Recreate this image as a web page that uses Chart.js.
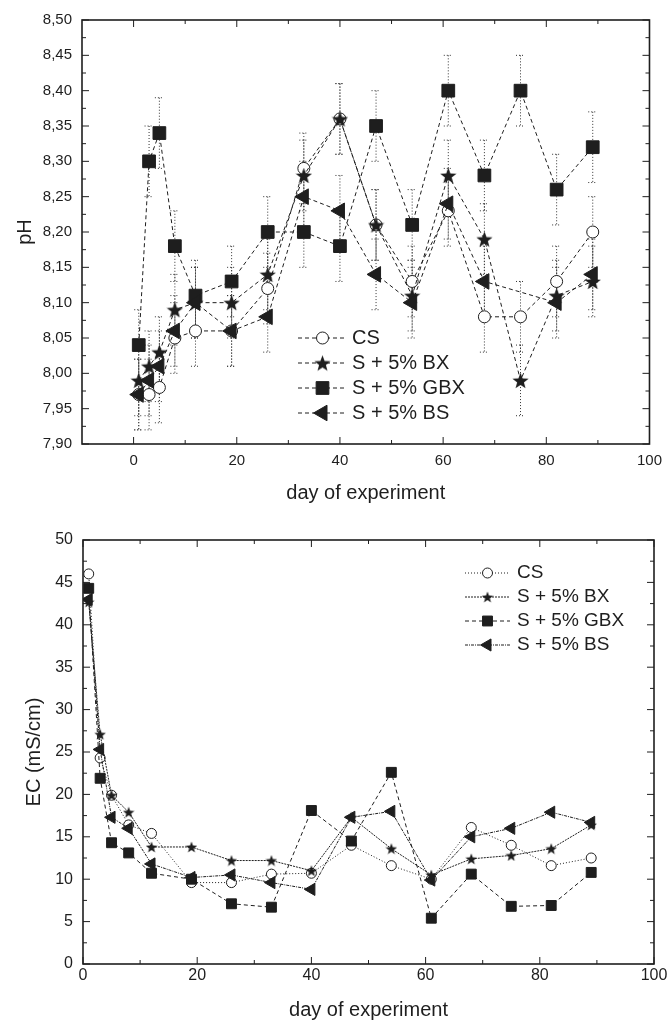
<!DOCTYPE html>
<html>
<head>
<meta charset="utf-8">
<script src="https://cdn.jsdelivr.net/npm/chart.js@4.4.1/dist/chart.umd.min.js"></script>
<style>
  body { margin: 0; background: #fff; }
  .panel { position: absolute; left: 0; width: 670px; height: 510px; }
</style>
</head>
<body>
<div class="panel" style="top:0"><canvas id="ph" width="670" height="510"></canvas></div>
<div class="panel" style="top:510px"><canvas id="ec" width="670" height="510"></canvas></div>
<script>
// sampling days (shared by both panels)
const days = [1, 3, 5, 8, 12, 19, 26, 33, 40, 47, 54, 61, 68, 75, 82, 89];
const seriesLabels = ['CS', 'S + 5% BX', 'S + 5% GBX', 'S + 5% BS'];

// pH panel
const phCS  = [7.97, 7.97, 7.98, 8.05, 8.06, 8.06, 8.12, 8.29, 8.36, 8.21, 8.13, 8.23, 8.08, 8.08, 8.13, 8.20];
const phBX  = [7.99, 8.01, 8.03, 8.09, 8.10, 8.10, 8.14, 8.28, 8.36, 8.21, 8.11, 8.28, 8.19, 7.99, 8.11, 8.13];
const phGBX = [8.04, 8.30, 8.34, 8.18, 8.11, 8.13, 8.20, 8.20, 8.18, 8.35, 8.21, 8.40, 8.28, 8.40, 8.26, 8.32];
const phBS  = [7.97, 7.99, 8.01, 8.06, 8.10, 8.06, 8.08, 8.25, 8.23, 8.14, 8.10, 8.24, 8.13, null, 8.10, 8.14];
const phErr = 0.05; // every error bar reads as +/- 0.05
const phTicksX = [0, 20, 40, 60, 80, 100];
const phTicksY = [7.90, 7.95, 8.00, 8.05, 8.10, 8.15, 8.20, 8.25, 8.30, 8.35, 8.40, 8.45, 8.50];

// EC panel
const ecCS  = [46.0, 24.3, 19.9, 16.4, 15.4, 9.6, 9.6, 10.6, 10.7, 14.0, 11.6, 10.0, 16.1, 14.0, 11.6, 12.5];
const ecBX  = [42.7, 27.1, 19.9, 17.9, 13.8, 13.8, 12.2, 12.2, 11.0, 17.3, 13.6, 10.5, 12.4, 12.8, 13.6, 16.4];
const ecGBX = [44.3, 21.9, 14.3, 13.1, 10.7, 10.0, 7.1, 6.7, 18.1, 14.5, 22.6, 5.4, 10.6, 6.8, 6.9, 10.8];
const ecBS  = [43.0, 25.3, 17.3, 16.0, 11.8, 10.2, 10.5, 9.6, 8.8, 17.3, 18.0, 9.9, 15.0, 16.0, 17.9, 16.7];
const ecTicksX = [0, 20, 40, 60, 80, 100];
const ecTicksY = [0, 5, 10, 15, 20, 25, 30, 35, 40, 45, 50];

const INK = '#1e1e1e';
const FONT = "'Liberation Sans', Arial, sans-serif";

// filled five point star used as a point style
function makeStar(size) {
  const c = document.createElement('canvas');
  c.width = c.height = size;
  const g = c.getContext('2d');
  const R = size / 2, r = R * 0.42, cx = size / 2, cy = size / 2 + size * 0.05;
  g.beginPath();
  for (let i = 0; i < 10; i++) {
    const a = -Math.PI / 2 + i * Math.PI / 5;
    const rad = i % 2 ? r : R;
    g.lineTo(cx + rad * Math.cos(a), cy + rad * Math.sin(a));
  }
  g.closePath();
  g.fillStyle = INK;
  g.fill();
  return c;
}

const toPoints = vals => days.map((d, i) => ({ x: d, y: vals[i] }));

function series(label, vals, dash, style, order, errors) {
  return {
    label: label,
    data: toPoints(vals),
    showLine: true,
    spanGaps: true,
    borderColor: INK,
    borderWidth: 1,
    borderDash: dash,
    pointStyle: style.shape,
    pointRadius: style.r,
    pointHoverRadius: style.r,
    pointRotation: style.rot || 0,
    pointBackgroundColor: style.fill,
    pointBorderColor: INK,
    pointBorderWidth: 1,
    order: order,
    errors: errors
  };
}

// frame + inward ticks on all four sides
function frameTicks(majorLen, minorLen) {
  return {
    id: 'frameTicks',
    beforeDatasetsDraw(chart) {
      const { ctx, chartArea: a, scales: { x, y } } = chart;
      const xt = x.ticks.map(t => t.value);
      const yt = y.ticks.map(t => t.value);
      const mids = arr => arr.slice(1).map((v, i) => (v + arr[i]) / 2);
      ctx.save();
      ctx.strokeStyle = INK;
      ctx.lineWidth = 1;
      ctx.beginPath();
      const xTick = (v, len) => {
        const p = x.getPixelForValue(v);
        ctx.moveTo(p, a.bottom); ctx.lineTo(p, a.bottom - len);
        ctx.moveTo(p, a.top); ctx.lineTo(p, a.top + len);
      };
      const yTick = (v, len) => {
        const p = y.getPixelForValue(v);
        ctx.moveTo(a.left, p); ctx.lineTo(a.left + len, p);
        ctx.moveTo(a.right, p); ctx.lineTo(a.right - len, p);
      };
      xt.forEach(v => xTick(v, majorLen));
      mids(xt).forEach(v => xTick(v, minorLen));
      yt.forEach(v => yTick(v, majorLen));
      mids(yt).forEach(v => yTick(v, minorLen));
      ctx.stroke();
      ctx.lineWidth = 1.6;
      ctx.strokeRect(a.left, a.top, a.right - a.left, a.bottom - a.top);
      ctx.restore();
    }
  };
}

const errorBars = {
  id: 'errorBars',
  beforeDatasetsDraw(chart) {
    const { ctx, scales: { x, y } } = chart;
    ctx.save();
    ctx.strokeStyle = '#333';
    ctx.lineWidth = 1;
    ctx.setLineDash([1, 2]);
    chart.data.datasets.forEach(ds => {
      if (!ds.errors) return;
      ds.data.forEach(p => {
        if (p.y == null) return;
        const px = x.getPixelForValue(p.x);
        const top = y.getPixelForValue(p.y + ds.errors);
        const bot = y.getPixelForValue(p.y - ds.errors);
        ctx.beginPath();
        ctx.moveTo(px, top); ctx.lineTo(px, bot);
        ctx.moveTo(px - 4.5, top); ctx.lineTo(px + 4.5, top);
        ctx.moveTo(px - 4.5, bot); ctx.lineTo(px + 4.5, bot);
        ctx.stroke();
      });
    });
    ctx.restore();
  }
};

function insetLegend(cfg) {
  return {
    id: 'insetLegend',
    afterDatasetsDraw(chart) {
      const ctx = chart.ctx;
      ctx.save();
      chart.data.datasets.forEach((ds, i) => {
        const yy = cfg.y0 + i * cfg.dy;
        ctx.strokeStyle = INK;
        ctx.lineWidth = 1;
        ctx.setLineDash(ds.borderDash);
        ctx.beginPath(); ctx.moveTo(cfg.x0, yy); ctx.lineTo(cfg.x1, yy); ctx.stroke();
        ctx.setLineDash([]);
        ctx.fillStyle = ds.pointBackgroundColor;
        Chart.helpers.drawPoint(ctx, {
          pointStyle: ds.pointStyle, radius: ds.pointRadius, rotation: ds.pointRotation, borderWidth: 1
        }, (cfg.x0 + cfg.x1) / 2, yy);
        ctx.fillStyle = INK;
        ctx.font = cfg.size + 'px ' + FONT;
        ctx.textAlign = 'left';
        ctx.textBaseline = 'middle';
        ctx.fillText(ds.label, cfg.tx, yy);
      });
      ctx.restore();
    }
  };
}

function axis(o) {
  return {
    type: 'linear',
    min: o.min, max: o.max,
    afterBuildTicks: s => { s.ticks = o.ticks.map(v => ({ value: v })); },
    afterFit: s => { if (o.width) s.width = o.width; if (o.height) s.height = o.height; },
    grid: { display: false, drawTicks: false },
    border: { display: false },
    ticks: {
      padding: o.pad, color: INK, autoSkip: false, maxRotation: 0,
      font: { family: FONT, size: o.tickSize },
      callback: o.fmt || (v => v)
    },
    title: {
      display: true, text: o.title, color: INK,
      font: { family: FONT, size: 20, lineHeight: 1 },
      padding: o.titlePad
    }
  };
}

// ---- pH panel
const starBig = makeStar(17);
new Chart(document.getElementById('ph'), {
  type: 'scatter',
  data: {
    datasets: [
      series(seriesLabels[0], phCS,  [4, 3], { shape: 'circle', r: 6, fill: '#fff' }, 4, phErr),
      series(seriesLabels[1], phBX,  [4, 3], { shape: starBig, r: 8, fill: INK }, 3, phErr),
      series(seriesLabels[2], phGBX, [4, 3], { shape: 'rect', r: 9, fill: INK }, 2, phErr),
      series(seriesLabels[3], phBS,  [4, 3], { shape: 'triangle', r: 9, rot: -90, fill: INK }, 1, phErr)
    ]
  },
  options: {
    responsive: false,
    animation: false,
    layout: { padding: { top: 20, right: 14.5, left: 0, bottom: 0 } },
    plugins: { legend: { display: false }, tooltip: { enabled: false } },
    scales: {
      x: axis({ min: -10, max: 100, ticks: phTicksX, height: 66, pad: 8, tickSize: 15,
                title: 'day of experiment', titlePad: { top: 0, bottom: 7 } }),
      y: axis({ min: 7.9, max: 8.5, ticks: phTicksY, width: 82, pad: 10, tickSize: 15,
                fmt: v => Number(v).toFixed(2).replace('.', ','),
                title: 'pH', titlePad: { top: 15, bottom: 0 } })
    }
  },
  plugins: [frameTicks(7, 4), errorBars, insetLegend({ x0: 298, x1: 347, tx: 352, y0: 338, dy: 25, size: 20 })]
});

// ---- EC panel
const starSmall = makeStar(12);
new Chart(document.getElementById('ec'), {
  type: 'scatter',
  data: {
    datasets: [
      series(seriesLabels[0], ecCS,  [1, 2], { shape: 'circle', r: 5, fill: '#fff' }, 4),
      series(seriesLabels[1], ecBX,  [2, 1], { shape: starSmall, r: 6, fill: INK }, 3),
      series(seriesLabels[2], ecGBX, [4, 3], { shape: 'rect', r: 7, fill: INK }, 2),
      series(seriesLabels[3], ecBS,  [3, 1, 1, 1], { shape: 'triangle', r: 7, rot: -90, fill: INK }, 1)
    ]
  },
  options: {
    responsive: false,
    animation: false,
    layout: { padding: { top: 30, right: 16, left: 0, bottom: 0 } },
    plugins: { legend: { display: false }, tooltip: { enabled: false } },
    scales: {
      x: axis({ min: 0, max: 100, ticks: ecTicksX, height: 56, pad: 2, tickSize: 16,
                title: 'day of experiment', titlePad: { top: 0, bottom: 0 } }),
      y: axis({ min: 0, max: 50, ticks: ecTicksY, width: 83, pad: 10, tickSize: 16,
                title: 'EC (mS/cm)', titlePad: { top: 24, bottom: 0 } })
    }
  },
  plugins: [frameTicks(7, 4), insetLegend({ x0: 465, x1: 510, tx: 517, y0: 63, dy: 24, size: 19 })]
});
</script>
</body>
</html>
